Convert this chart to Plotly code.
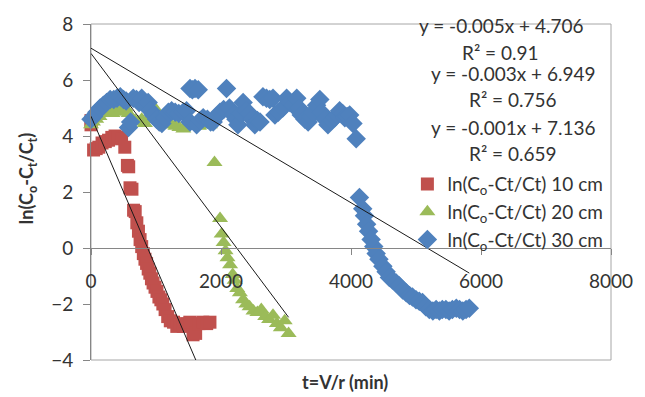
import plotly.graph_objects as go

# ln((Co-Ct)/Ct) versus elapsed time t = V/r for three column depths
t_10cm = [0, 0, 40, 80, 120, 170, 220, 270, 320, 370, 420, 470, 520, 560, 580, 600, 630,
          655, 680, 705, 730, 755, 780, 805, 830, 855, 880, 905, 930, 955, 985, 1015, 1045,
          1075, 1105, 1140, 1180, 1220, 1270, 1320, 1370, 1420, 1470, 1520, 1570, 1610,
          1660, 1720, 1780, 1830]
ln_10cm = [4.55, 4.4, 3.5, 3.55, 3.6, 3.75, 3.8, 3.85, 3.95, 4.0, 3.95, 3.9, 3.6, 2.95, 2.9,
           2.15, 2.1, 1.35, 1.3, 0.9, 0.6, 0.3, 0.05, -0.2, -0.4, -0.55, -0.75, -0.9, -1.1,
           -1.25, -1.4, -1.55, -1.75, -1.85, -2.0, -2.2, -2.45, -2.6, -2.65, -2.8, -2.75,
           -2.8, -2.7, -2.65, -3.1, -3.05, -2.7, -2.65, -2.7, -2.65]

t_20cm = [0, 30, 80, 130, 180, 230, 280, 330, 380, 430, 480, 530, 580, 630, 680, 730, 780,
          830, 880, 930, 980, 1030, 1080, 1130, 1180, 1240, 1300, 1360, 1420, 1480, 1540,
          1600, 1660, 1720, 1780, 1830, 1900, 1985, 2010, 2040, 2070, 2100, 2140, 2180,
          2210, 2250, 2290, 2340, 2390, 2440, 2500, 2560, 2620, 2680, 2740, 2800, 2860,
          2920, 2980, 3040]
ln_20cm = [4.4, 4.5, 4.6, 4.7, 4.8, 4.85, 4.9, 4.8, 4.9, 4.85, 4.95, 5.0, 4.8, 4.6, 4.55,
           4.5, 4.6, 4.45, 4.6, 4.9, 5.0, 4.7, 4.5, 4.4, 4.45, 4.4, 4.35, 4.3, 4.25, 4.4,
           4.45, 4.4, 4.35, 4.4, 4.45, 4.4, 3.05, 1.05, 0.5, 0.2, -0.1, -0.35, -0.6, -0.95,
           -1.15, -1.45, -1.6, -1.85, -2.0, -2.1, -2.25, -2.3, -2.2, -2.45, -2.55, -2.4,
           -2.7, -2.85, -2.6, -3.05]

t_30cm = [0, 40, 90, 140, 190, 240, 295, 350, 400, 450, 500, 540, 577, 610, 650, 700, 740,
          780, 830, 880, 920, 960, 1010, 1050, 1090, 1140, 1190, 1240, 1295, 1350, 1420,
          1470, 1523, 1560, 1600, 1650, 1523, 1625, 1680, 1726, 1790, 1840, 1880, 1930,
          1985, 2040, 2085, 2130, 2190, 2230, 2260, 2300, 2340, 2390, 2440, 2480, 2520,
          2560, 2600, 2645, 2700, 2750, 2800, 2830, 2880, 2950, 3010, 3060, 3110, 3165,
          3200, 3235, 3290, 3340, 3380, 3415, 3470, 3520, 3545, 3600, 3645, 3700, 3750,
          3790, 3825, 3870, 3905, 3940, 3980, 4030, 4080, 4130, 4180, 4208, 4240, 4270,
          4310, 4350, 4387, 4430, 4490, 4540, 4590, 4640, 4695, 4740, 4795, 4850, 4900,
          4945, 5000, 5050, 5100, 5150, 5205, 5260, 5310, 5360, 5405, 5460, 5510, 5560,
          5620, 5670, 5720, 5770, 5820]
ln_30cm = [4.6, 4.7, 4.85, 5.0, 5.1, 5.2, 5.3, 5.3, 5.35, 5.4, 5.3, 5.25, 4.3, 4.5, 5.35,
           5.3, 5.2, 5.35, 5.1, 5.2, 4.9, 4.75, 4.6, 4.5, 4.45, 4.65, 4.85, 4.9, 4.85, 4.8,
           4.85, 4.9, 5.7, 5.65, 5.7, 5.65, 4.5, 4.4, 4.55, 4.65, 4.6, 4.5, 4.5, 4.7, 4.85,
           4.95, 5.7, 5.0, 4.75, 4.6, 4.4, 4.8, 5.2, 4.9, 4.8, 4.6, 4.4, 4.55, 4.5, 5.4,
           5.35, 5.3, 5.35, 4.75, 4.85, 5.0, 5.35, 5.2, 5.1, 5.35, 5.0, 4.75, 4.6, 4.5,
           4.7, 4.85, 5.1, 5.3, 4.85, 4.6, 4.4, 4.55, 4.65, 4.75, 4.9, 4.8, 4.65, 4.7,
           4.75, 4.45, 3.9, 1.8, 1.4, 1.15, 0.85, 0.6, 0.3, 0.05, -0.2, -0.4, -0.65, -0.85,
           -1.05, -1.15, -1.25, -1.35, -1.5, -1.6, -1.7, -1.75, -1.85, -1.9, -1.95, -2.1,
           -2.2, -2.25, -2.2, -2.25, -2.2, -2.2, -2.25, -2.2, -2.15, -2.2, -2.25, -2.2,
           -2.15]

# Linear trendline coefficients (slope, intercept) and R^2 for each depth
slope_10cm, icpt_10cm, r2_10cm = -0.0054, 4.706, 0.91
slope_20cm, icpt_20cm, r2_20cm = -0.0031, 6.949, 0.756
slope_30cm, icpt_30cm, r2_30cm = -0.00138, 7.136, 0.659

x_ticks = [0, 2000, 4000, 6000, 8000]
y_ticks = [-4, -2, 0, 2, 4, 6, 8]

FONT = "Lato"
TXT = "#333333"
AXIS = "#868686"

series = [
    ("ln(C<sub>o</sub>-Ct/Ct) 10 cm", t_10cm, ln_10cm, "#C0504D", "square", 13,
     slope_10cm, icpt_10cm, r2_10cm),
    ("ln(C<sub>o</sub>-Ct/Ct) 20 cm", t_20cm, ln_20cm, "#9BBB59", "triangle-up", 14,
     slope_20cm, icpt_20cm, r2_20cm),
    ("ln(C<sub>o</sub>-Ct/Ct) 30 cm", t_30cm, ln_30cm, "#4F81BD", "diamond", 15,
     slope_30cm, icpt_30cm, r2_30cm),
]

fig = go.Figure()
for name, xs, ys, color, symbol, size, *_ in series:
    fig.add_trace(go.Scatter(
        x=xs, y=ys, mode="markers", name=name, cliponaxis=False,
        marker=dict(symbol=symbol, size=size, color=color, line=dict(width=0)),
    ))

# fitted lines over each series' time span
for name, xs, ys, color, symbol, size, m, b, r2 in series:
    x0, x1 = min(xs), max(xs)
    fig.add_trace(go.Scatter(
        x=[x0, x1], y=[m * x0 + b, m * x1 + b], mode="lines", showlegend=False,
        line=dict(color="#1a1a1a", width=1), hoverinfo="skip",
    ))

# equation labels (slope shown to three decimals)
def eq_text(m, b):
    return f"y = {m:.3f}x + {b:.3f}"

label_rows = [
    (eq_text(slope_10cm, icpt_10cm), 502, 24),
    (f"R² = {r2_10cm:g}", 501, 51),
    (eq_text(slope_20cm, icpt_20cm), 514, 72),
    (f"R² = {r2_20cm:g}", 514, 98),
    (eq_text(slope_30cm, icpt_30cm), 514, 126),
    (f"R² = {r2_30cm:g}", 514, 152),
]

L, R, T, B = 91, 33, 22, 37
W, H = 645, 397
pw, ph = W - L - R, H - T - B


def px_x(p):
    return (p - L) / pw


def px_y(p):
    return (H - B - p) / ph


annotations = []
for text, cx, cy in label_rows:
    annotations.append(dict(
        text=text, xref="paper", yref="paper", x=px_x(cx), y=px_y(cy),
        xanchor="center", yanchor="middle", showarrow=False,
        font=dict(family=FONT, size=19, color=TXT),
    ))

annotations.append(dict(
    text="<b>ln(C<sub>o</sub>-C<sub>t</sub>/C<sub>t</sub>)</b>", xref="paper", yref="paper",
    x=px_x(27), y=px_y(178), textangle=-90, xanchor="center", yanchor="middle",
    showarrow=False, font=dict(family=FONT, size=18, color=TXT),
))
annotations.append(dict(
    text="<b>t=V/r (min)</b>", xref="paper", yref="paper",
    x=px_x(345), y=px_y(382), xanchor="center", yanchor="middle",
    showarrow=False, font=dict(family=FONT, size=18, color=TXT),
))

fig.update_layout(
    width=W, height=H,
    margin=dict(l=L, r=R, t=T, b=B),
    paper_bgcolor="white", plot_bgcolor="white",
    font=dict(family=FONT, size=19, color=TXT),
    showlegend=True,
    legend=dict(
        x=px_x(408), y=px_y(164), xanchor="left", yanchor="top",
        bgcolor="rgba(0,0,0,0)", font=dict(family=FONT, size=19, color=TXT),
        tracegroupgap=0,
    ),
    xaxis=dict(
        range=[0, 8000], tickvals=x_ticks, ticktext=[str(v) for v in x_ticks],
        showgrid=False, zeroline=False, showline=True, linecolor=AXIS, linewidth=1,
        ticks="outside", ticklen=6, tickcolor=AXIS, anchor="free",
        position=(0 - y_ticks[0]) / (y_ticks[-1] - y_ticks[0]),
        ticklabelstandoff=10,
    ),
    yaxis=dict(
        range=[-4, 8], tickvals=y_ticks, showgrid=False, zeroline=False,
        showline=True, linecolor=AXIS, linewidth=1, ticks="outside", ticklen=7,
        tickcolor=AXIS, ticklabelstandoff=6,
    ),
    shapes=[dict(
        type="rect", xref="paper", yref="paper", x0=0, y0=0, x1=1, y1=1,
        line=dict(color="#A6A6A6", width=1), layer="below",
    )],
    annotations=annotations,
)

fig.write_html("out.html")
